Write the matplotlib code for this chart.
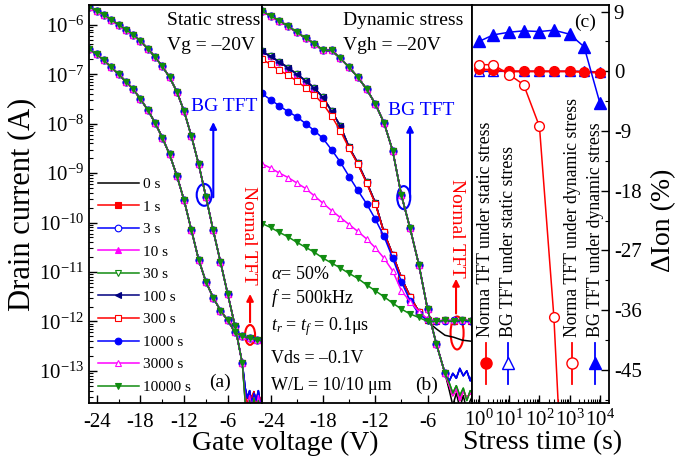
import numpy as np
import matplotlib
matplotlib.use('Agg')
import matplotlib.pyplot as plt
from matplotlib.patches import Ellipse
from matplotlib.ticker import MultipleLocator, FuncFormatter, LogLocator, LogFormatterSciNotation, NullFormatter

plt.rcParams['font.family'] = ['Liberation Serif', 'DejaVu Serif']
plt.rcParams['mathtext.fontset'] = 'custom'
plt.rcParams['mathtext.rm'] = 'Liberation Serif'
plt.rcParams['mathtext.it'] = 'Liberation Serif:italic'
plt.rcParams['mathtext.bf'] = 'Liberation Serif:bold'
plt.rcParams['axes.unicode_minus'] = False

# ---------------- data ----------------
vg = [-25, -24, -23, -22, -21, -20, -19, -18, -17, -16, -15, -14, -13,
      -12, -11, -10, -9, -8, -7, -6, -5, -4, -3, -2, -1]

stress_labels = ['0 s', '1 s', '3 s', '10 s', '30 s', '100 s', '300 s',
                 '1000 s', '3000 s', '10000 s']

# log10(Id) -- static stress (a): curves coincide for all stress times
# BG TFT branch (up to -4 V), then off-state noise tails
bg_static_log = [-5.64, -5.72, -5.80, -5.90, -6.00, -6.10, -6.20, -6.33, -6.48,
                 -6.65, -6.84, -7.06, -7.35, -7.75, -8.25, -8.82, -9.48, -10.16,
                 -10.80, -11.45, -12.10, -12.85]
norm_static_log = [-6.50, -6.60, -6.72, -6.86, -7.00, -7.15, -7.30, -7.50, -7.72,
                   -7.98, -8.28, -8.62, -9.05, -9.55, -10.15, -10.75, -11.20,
                   -11.52, -11.78, -11.98, -12.22, -12.30, -12.34, -12.37, -12.40]
tail_v_a = [-3.6, -3.3, -3.0, -2.7, -2.4, -2.1, -1.8, -1.5, -1.2]
tail_a_1 = [-13.35, -13.55, -13.40, -13.70, -13.45, -13.60, -13.40, -13.70, -13.50]
tail_a_2 = [-13.50, -13.72, -13.45, -13.55, -13.42, -13.70, -13.50, -13.60, -13.45]
tail_a_3 = [-13.60, -13.80, -13.50, -13.75, -13.55, -13.80, -13.50, -13.70, -13.60]
tail_a_4 = [-13.65, -13.90, -13.60, -13.85, -13.55, -13.90, -13.60, -13.80, -13.65]

# log10(Id) -- dynamic stress (b)
bg_dyn_log = [-5.73, -5.82, -5.92, -6.03, -6.15, -6.27, -6.38, -6.52, -6.52,
              -6.68, -6.86, -7.06, -7.30, -7.60, -7.98, -8.55, -9.45, -10.12,
              -10.85, -11.75, -12.45, -13.05]
norm_dyn_0s = [-6.54, -6.64, -6.75, -6.87, -7.00, -7.13, -7.28, -7.47, -7.75,
               -8.05, -8.48, -8.80, -9.18, -9.60, -10.20, -10.65, -11.12, -11.50,
               -11.80, -12.00, -12.15, -12.28, -12.32, -12.38, -12.40]
norm_dyn_early = [-6.54, -6.64, -6.75, -6.87, -7.00, -7.13, -7.28, -7.47, -7.75,
                  -8.05, -8.48, -8.80, -9.18, -9.60, -10.20, -10.65, -11.12, -11.50,
                  -11.80, -11.98, -12.00, -11.98, -12.00, -11.97, -12.00]
norm_dyn_300s = [-6.70, -6.80, -6.92, -7.02, -7.14, -7.27, -7.42, -7.60, -7.85,
                 -8.15, -8.50, -8.82, -9.20, -9.62, -10.20, -10.65, -11.12, -11.50,
                 -11.80, -11.98, -12.00, -11.98, -12.00, -11.97, -12.00]
norm_dyn_1000s = [-7.39, -7.52, -7.64, -7.76, -7.86, -8.00, -8.14, -8.30, -8.53,
                  -8.78, -9.07, -9.35, -9.62, -9.93, -10.28, -10.72, -11.20, -11.58,
                  -11.85, -11.98, -12.00, -12.00, -11.98, -12.00, -12.00]
norm_dyn_3000s = [-8.81, -8.90, -9.00, -9.09, -9.20, -9.31, -9.46, -9.61, -9.76,
                  -9.90, -10.04, -10.18, -10.33, -10.51, -10.72, -10.98, -11.38,
                  -11.60, -11.80, -11.95, -11.98, -11.98, -11.97, -11.98, -11.97]
norm_dyn_10000s = [-10.02, -10.10, -10.20, -10.29, -10.40, -10.50, -10.60, -10.72,
                   -10.82, -10.92, -11.03, -11.13, -11.26, -11.38, -11.50, -11.63,
                   -11.75, -11.85, -11.92, -12.00, -12.00, -11.98, -12.00, -11.97,
                   -11.99]
tail_v_b = [-3.5, -3.1, -2.7, -2.3, -1.9, -1.5, -1.1, -0.8]
tail_b_black = [-13.40, -13.70, -13.45, -13.75, -13.50, -13.80, -13.60, -13.50]
tail_b_blue = [-13.20, -13.05, -13.15, -12.95, -13.10, -13.00, -13.20, -13.05]
tail_b_mag = [-13.30, -13.50, -13.35, -13.60, -13.40, -13.55, -13.45, -13.50]
tail_b_green = [-13.25, -13.45, -13.30, -13.50, -13.35, -13.60, -13.40, -13.45]

# (c) change of on-current vs stress time
stress_time = [1, 3, 10, 30, 100, 300, 1000, 3000, 10000]
dIon_norm_static = [0.3, 0.2, 0.0, 0.0, 0.0, 0.0, 0.0, -0.1, -0.2]
dIon_bg_static = [0.0, 0.0, 0.0, 0.0, 0.0, 0.0, 0.0, 0.0, -0.1]
dIon_norm_dynamic = [1.0, 1.0, -0.5, -2.0, -8.3, -37.0, -85.0, -95.0, -98.0]
dIon_bg_dynamic = [4.5, 5.5, 5.9, 6.1, 6.0, 6.2, 5.6, 3.7, -4.8]

# ---------------- styles ----------------
GREEN = '#118c11'
colors = ['black', 'red', 'blue', 'magenta', GREEN, '#000080', 'red', 'blue',
          'magenta', GREEN]
markers = [None, 's', 'o', '^', 'v', '<', 's', 'o', '^', 'v']
filled = [True, True, False, True, False, True, False, True, False, True]

fig = plt.figure(figsize=(6.99, 4.74), dpi=100)
W, H = 699.0, 474.0
top, bot = 5, 403


def box(x0, x1):
    return [x0 / W, (H - bot) / H, (x1 - x0) / W, (bot - top) / H]


axa = fig.add_axes(box(89, 262))
axb = fig.add_axes(box(262, 472))
axc = fig.add_axes(box(472, 609))

vga = np.array(vg, dtype=float)


def draw(ax, xs, ys, i, label=None, mark=True):
    ax.plot(xs, 10.0 ** np.array(ys), color=colors[i], lw=1.1,
            marker=(markers[i] if mark else None), ms=4.8, mew=0.8,
            mfc=(colors[i] if filled[i] else 'white'), mec=colors[i],
            label=label)


tails_a = [tail_a_2, tail_a_2, tail_a_1, tail_a_3, tail_a_4, tail_a_1, tail_a_2,
           tail_a_1, tail_a_3, tail_a_4]
for i in range(10):
    draw(axa, vga, norm_static_log, i)
    nb = len(bg_static_log)
    draw(axa, np.r_[vga[nb - 1], tail_v_a], [bg_static_log[-1]] + tails_a[i], i,
         mark=False)
    draw(axa, vga[:nb], bg_static_log, i, stress_labels[i])

norm_dyn_sets = [norm_dyn_0s] + [norm_dyn_early] * 5 + [norm_dyn_300s, norm_dyn_1000s,
                                                          norm_dyn_3000s, norm_dyn_10000s]
tails_b = [tail_b_black, tail_b_mag, tail_b_blue, tail_b_mag, tail_b_green,
           tail_b_blue, tail_b_mag, tail_b_blue, tail_b_mag, tail_b_green]
for i in range(10):
    nb = len(bg_dyn_log)
    draw(axb, np.r_[vga[nb - 1], tail_v_b], [bg_dyn_log[-1]] + tails_b[i], i,
         mark=False)
    draw(axb, vga[:nb], bg_dyn_log, i)
    draw(axb, vga, norm_dyn_sets[i], i)

for ax in (axa, axb):
    ax.set_yscale('log')
    ax.set_ylim(10 ** -13.65, 10 ** -5.6)
    ax.xaxis.set_major_locator(MultipleLocator(6))
    ax.xaxis.set_minor_locator(MultipleLocator(3))
    ax.xaxis.set_major_formatter(FuncFormatter(lambda v, p: '%d' % round(v)))
    ax.tick_params(axis='both', which='both', direction='in', labelsize=15,
                   top=False, right=False)
    ax.tick_params(axis='x', pad=7)
    ax.tick_params(which='major', length=6, width=1)
    ax.tick_params(which='minor', length=3, width=0.8)
    for s in ax.spines.values():
        s.set_linewidth(1.3)

axa.set_xlim(-25.06, -1.3)
axb.set_xlim(-25.0, -0.9)
axa.yaxis.set_major_locator(LogLocator(base=10, numticks=20))
axa.yaxis.set_minor_locator(LogLocator(base=10, subs=np.arange(2, 10), numticks=20))
axa.yaxis.set_minor_formatter(NullFormatter())
axb.tick_params(axis='y', which='both', left=False, labelleft=False)

axa.set_ylabel('Drain current (A)', fontsize=22, labelpad=2)
fig.text(285 / W, 1 - 443 / H, 'Gate voltage (V)', fontsize=20, ha='center', va='center')

# legend (a)
axa.legend(loc='upper left', bbox_to_anchor=(0.05, 0.567), frameon=False, fontsize=11,
           handlelength=2.7, handletextpad=0.3, labelspacing=0.58, borderpad=0,
           numpoints=1, borderaxespad=0)

# annotations (a)
axa.text(0.451, 0.962, 'Static stress', transform=axa.transAxes, fontsize=14,
         ha='left', va='center')
axa.text(0.451, 0.899, 'Vg = \u201320V', transform=axa.transAxes, fontsize=14,
         ha='left', va='center')
axa.text(0.78, 0.744, 'BG TFT', transform=axa.transAxes, fontsize=14, color='blue',
         ha='center', va='center')
axa.add_patch(Ellipse((0.666, 0.523), 0.087, 0.055, transform=axa.transAxes,
                      fill=False, ec='blue', lw=1.5))
axa.annotate('', xy=(0.7185, 0.713), xytext=(0.7185, 0.51), xycoords='axes fraction',
             arrowprops=dict(arrowstyle='-|>', color='blue', lw=1.5, mutation_scale=10))
axa.text(0.92, 0.42, 'Normal TFT', transform=axa.transAxes, fontsize=14, color='red',
         rotation=-90, ha='center', va='center')
axa.add_patch(Ellipse((0.931, 0.171), 0.058, 0.05, transform=axa.transAxes,
                      fill=False, ec='red', lw=1.5))
axa.annotate('', xy=(0.931, 0.281), xytext=(0.931, 0.196), xycoords='axes fraction',
             arrowprops=dict(arrowstyle='-|>', color='red', lw=1.5, mutation_scale=10))
axa.text(0.757, 0.053, '(a)', transform=axa.transAxes, fontsize=14, ha='center', va='center')

# annotations (b)
axb.text(0.386, 0.962, 'Dynamic stress', transform=axb.transAxes, fontsize=14,
         ha='left', va='center')
axb.text(0.386, 0.899, 'Vgh = \u201320V', transform=axb.transAxes, fontsize=14,
         ha='left', va='center')
axb.text(0.759, 0.736, 'BG TFT', transform=axb.transAxes, fontsize=14, color='blue',
         ha='center', va='center')
axb.add_patch(Ellipse((0.675, 0.516), 0.062, 0.058, transform=axb.transAxes,
                      fill=False, ec='blue', lw=1.5))
axb.annotate('', xy=(0.705, 0.706), xytext=(0.705, 0.51), xycoords='axes fraction',
             arrowprops=dict(arrowstyle='-|>', color='blue', lw=1.5, mutation_scale=10))
axb.text(0.927, 0.44, 'Normal TFT', transform=axb.transAxes, fontsize=14, color='red',
         rotation=-90, ha='center', va='center')
axb.add_patch(Ellipse((0.929, 0.176), 0.062, 0.083, transform=axb.transAxes,
                      fill=False, ec='red', lw=1.5))
axb.annotate('', xy=(0.924, 0.319), xytext=(0.924, 0.218), xycoords='axes fraction',
             arrowprops=dict(arrowstyle='-|>', color='red', lw=1.5, mutation_scale=10))
params = [r'$\alpha$= 50%', r'$f$ = 500kHz', r'$t_r$ = $t_f$ = 0.1$\mathrm{\mu}$s',
          'Vds = \u20130.1V', 'W/L = 10/10 \u03bcm']
param_y = [0.322, 0.264, 0.191, 0.113, 0.045]
for t, y in zip(params, param_y):
    axb.text(0.045, y, t, transform=axb.transAxes, fontsize=13, ha='left', va='center')
axb.text(0.786, 0.045, '(b)', transform=axb.transAxes, fontsize=14, ha='center', va='center')

# ---------------- panel (c) ----------------
axc.plot(stress_time, dIon_bg_static, color='blue', lw=1.1, marker='^', ms=7,
         mfc='white', mec='blue')
axc.plot(stress_time, dIon_norm_static, color='red', lw=1.5, marker='o', ms=7,
         mfc='red', mec='red')
axc.plot(stress_time, dIon_norm_dynamic, color='red', lw=1.1, marker='o', ms=7,
         mfc='white', mec='red')
axc.plot(stress_time, dIon_bg_dynamic, color='blue', lw=1.1, marker='^', ms=8,
         mfc='blue', mec='blue')
axc.set_xscale('log')
axc.set_xlim(10 ** -0.23, 10 ** 4.3)
axc.set_ylim(-50, 10)
axc.xaxis.set_major_locator(LogLocator(base=10, numticks=10))
axc.xaxis.set_major_formatter(LogFormatterSciNotation())
axc.xaxis.set_minor_locator(LogLocator(base=10, subs=np.arange(2, 10), numticks=10))
axc.xaxis.set_minor_formatter(NullFormatter())
axc.yaxis.set_major_locator(MultipleLocator(9))
axc.yaxis.set_minor_locator(MultipleLocator(4.5))
axc.yaxis.set_major_formatter(FuncFormatter(lambda v, p: '%d' % round(v)))
axc.yaxis.tick_right()
axc.tick_params(axis='both', which='both', direction='in', labelsize=15)
axc.tick_params(axis='x', labelsize=15, pad=5)
axc.tick_params(which='major', length=6, width=1)
axc.tick_params(which='minor', length=3, width=0.8)
axc.tick_params(axis='y', which='both', left=False, right=True, labelleft=False,
                labelright=True)
for s in axc.spines.values():
    s.set_linewidth(1.3)
fig.text(543 / W, 1 - 443 / H, 'Stress time (s)', fontsize=20, ha='center', va='center')
fig.text(664 / W, 1 - 220 / H, '\u0394Ion (%)', fontsize=20, ha='center', va='center',
         rotation=90)
axc.text(0.825, 0.957, '(c)', transform=axc.transAxes, fontsize=14, ha='center',
         va='center')

# rotated legend of (c)
leg_labels = ['Norma TFT under static stress', 'BG TFT under static stress',
              'Norma TFT under dynamic stress', 'BG TFT under dynamic stress']
leg_x = [0.102, 0.263, 0.730, 0.898]
leg_col = ['red', 'blue', 'red', 'blue']
leg_mk = ['o', '^', 'o', '^']
leg_fill = [True, False, False, True]
for lx, lab, c, m, f in zip(leg_x, leg_labels, leg_col, leg_mk, leg_fill):
    axc.plot([lx, lx], [0.048, 0.151], transform=axc.transAxes, color=c, lw=1.3,
             clip_on=False)
    axc.plot([lx], [0.1005], transform=axc.transAxes, color=c, marker=m, ms=8,
             mfc=(c if f else 'white'), mec=c, clip_on=False)
    axc.text(lx, 0.166, lab, transform=axc.transAxes, rotation=90, fontsize=12.8,
             ha='center', va='bottom')

fig.savefig('out.png', dpi=100)
